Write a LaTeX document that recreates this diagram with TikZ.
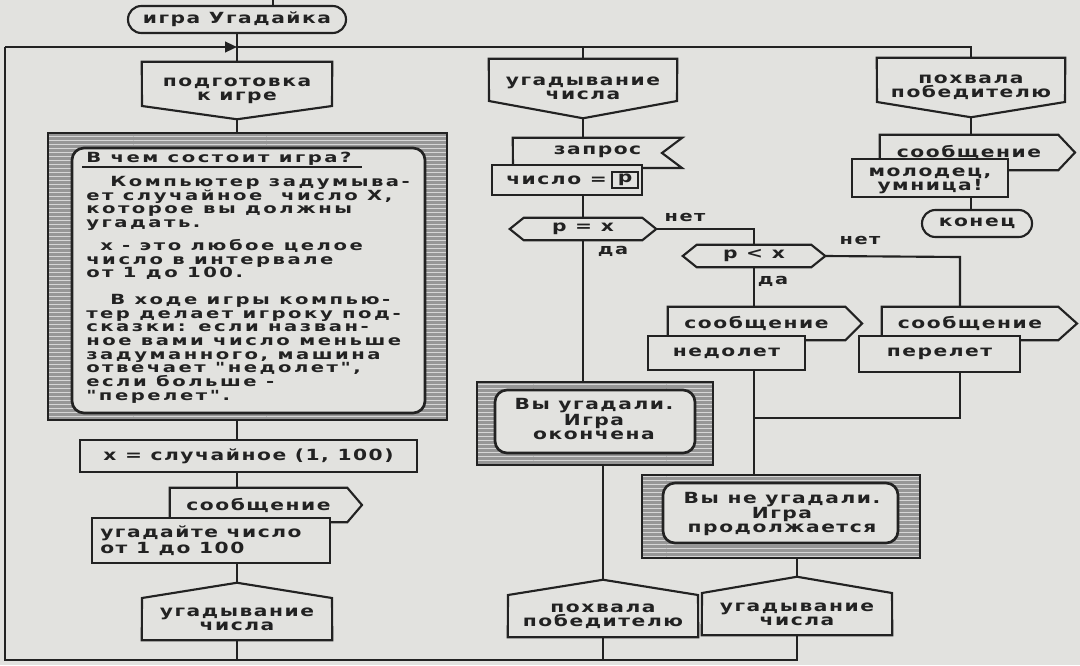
\documentclass[tikz,border=0pt]{standalone}
\usepackage{fontspec}
\newfontfamily\blkfont{DejaVu Sans}[FakeStretch=1.32,LetterSpace=10]
\newfontfamily\cmtfont{DejaVu Sans}[FakeStretch=1.4,LetterSpace=18]
\usetikzlibrary{arrows.meta,calc,patterns}
\definecolor{bg}{RGB}{226,226,223}
\definecolor{ink}{RGB}{34,34,34}
\definecolor{hatchC}{RGB}{150,150,150}
\definecolor{hatchL}{RGB}{214,214,214}
\tikzset{inbox/.style args={#1/#2/#3/#4}{minimum width={(#3-#1)*0.75pt},
  minimum height={(#4-#2)*0.75pt}, at={({(#1+#3)/2},{(#2+#4)/2})}}}
% branch header: name, x1, ytop, x2, yshoulder, ytip, text
\newcommand\hdr[7]{%
  \node[txt,inbox=#2/#3/#4/#6] (#1) {#7};
  \draw[ln] (#1.north west) -- (#1.north east) -- (#4,#5) -- (#1.south) -- (#2,#5) -- cycle;}
% branch end (address): name, x1, ytip, x2, yshoulder, ybottom, text
\newcommand\addr[7]{%
  \node[txt,inbox=#2/#5/#4/#6] (#1) {#7};
  \coordinate (#1-tip) at ($(#1.north)+(0,#3-#5)$);
  \draw[ln] (#1-tip) -- (#4,#5) -- (#1.south east) -- (#1.south west) -- (#2,#5) -- cycle;}
% output flag: name, x1, ytop, x2, ybottom, xtip, text
\newcommand\flag[7]{%
  \node[txt,inbox=#2/#3/#4/#5] (#1) {#7};
  \draw[ln] (#1.north west) -- (#1.north east) -- (#6,{(#3+#5)/2}) -- (#1.south east) -- (#1.south west) -- cycle;}
% plain box filled: name, x1, y1, x2, y2, text
\newcommand\rbox[6]{\node[txt,ln,fill=bg,inbox=#2/#3/#4/#5] (#1) {#6};}
% question hexagon: name, x1, y1, x2, y2, text
\newcommand\hexq[6]{%
  \node[txt,inbox=#2/#3/#4/#5] (#1) {#6};
  \draw[ln] (#1.west) -- ($(#1.north west)+(14,0)$) -- ($(#1.north east)+(-14,0)$) -- (#1.east)
    -- ($(#1.south east)+(-14,0)$) -- ($(#1.south west)+(14,0)$) -- cycle;}
% comment frame: name, outer x1 y1 x2 y2, inner x1 y1 x2 y2
\newcommand\cframe[9]{%
  \fill[hatchC,even odd rule] (#2,#3) rectangle (#4,#5) [rounded corners=9pt] (#6,#7) rectangle (#8,#9);
  \fill[pattern=horizontal lines,pattern color=hatchL,even odd rule] (#2,#3) rectangle (#4,#5) [rounded corners=9pt] (#6,#7) rectangle (#8,#9);
  \node[inner sep=0pt,inbox=#2/#3/#4/#5] (#1) {};
  \draw[ln] (#1.north west) rectangle (#1.south east);
  \draw[ln,line width=2pt,rounded corners=9pt] (#6,#7) rectangle (#8,#9);}
\begin{document}
\begin{tikzpicture}[x=0.75pt,y=-0.75pt,
  ln/.style={draw=ink,line width=1.6pt},
  txt/.style={font=\blkfont\bfseries\fontsize{11.5pt}{10.6pt}\selectfont,text=ink,align=center,inner sep=0pt},
  cmt/.style={font=\cmtfont\bfseries\fontsize{10.5pt}{10.3pt}\selectfont,text=ink,anchor=base west,inner sep=0pt},
  lbl/.style={font=\blkfont\bfseries\fontsize{11pt}{10.3pt}\selectfont,text=ink,inner sep=0pt}]
\fill[bg] (0,0) rectangle (1080,665);
\useasboundingbox (0,0) rectangle (1080,665);

% ---------- nodes ----------
\node[txt,ln,rounded corners=10pt,inbox=128/6/346/33] (start) {игра Угадайка};
\hdr{prep}{142}{62}{332}{106}{119}{подготовка\\к игре}
\cframe{about}{48}{133}{447}{420}{72}{148}{425}{413}
\foreach \cy/\cx/\ct [count=\i] in {
  162/86/{В чем состоит игра?},
  186/110/{Компьютер задумыва-},
  200/86/{ет случайное\ \ число Х,},
  213/86/{которое вы должны},
  227/86/{угадать.},
  250/100/{х - это любое целое},
  264/86/{число в интервале},
  277/86/{от 1 до 100.},
  304/110/{В ходе игры компью-},
  318/86/{тер делает игроку под-},
  331/86/{сказки: если назван-},
  345/86/{ное вами число меньше},
  359/86/{задуманного, машина},
  372/86/{отвечает "недолет",},
  386/86/{если больше -},
  400/86/{"перелет".}}
  {\node[cmt] (cl\i) at (\cx,\cy) {\ct};}
\draw[ln] (82,167) -- (362,167);
\rbox{rnd}{80}{440}{417}{472}{x = случайное (1, 100)}
\flag{m1}{170}{488}{347}{522}{362}{сообщение}
\rbox{g1}{92}{518}{330}{563}{}
\node[txt,align=left,anchor=west] (g1t) at (100,541) {угадайте число\\от 1 до 100};
\addr{addr1}{142}{583}{332}{598}{640}{угадывание\\числа}

\hdr{hdr2}{489}{59}{677}{101}{118}{угадывание\\числа}
\node[txt,inbox=513/138/682/165] (req) {запрос};
\draw[ln] (req.north west) -- (req.north east) -- (662,153) -- (682,168) -- (513,168) -- cycle;
\rbox{num}{492}{165}{642}{195}{}
\node[txt,anchor=east] (numt) at (607,180) {число =};
\node[txt,ln,inbox=612/172/638/188] (pbox) {p};
\hexq{q1}{510}{218}{656}{240}{p = x}
\node[lbl] (no1) at (685,217) {нет};
\node[lbl] (yes1) at (613,251) {да};
\hexq{q2}{683}{245}{825}{267}{p < x}
\node[lbl] (no2) at (860,240) {нет};
\node[lbl] (yes2) at (773,281) {да};
\cframe{win}{477}{382}{713}{465}{495}{390}{695}{453}
\node[txt] (wint) at (594,419) {Вы угадали.\\Игра\\окончена};
\addr{addr2}{508}{580}{698}{595}{637}{похвала\\победителю}

\flag{m2}{668}{307}{845}{340}{862}{сообщение}
\rbox{n1}{648}{336}{805}{370}{недолет}
\flag{m3}{882}{307}{1058}{340}{1077}{сообщение}
\rbox{n2}{859}{336}{1020}{372}{перелет}
\cframe{lose}{642}{475}{920}{558}{663}{483}{898}{543}
\node[txt] (loset) at (782,514) {Вы не угадали.\\Игра\\продолжается};
\addr{addr3}{702}{577}{892}{593}{635}{угадывание\\числа}

\hdr{hdr4}{877}{58}{1065}{102}{117}{похвала\\победителю}
\flag{m4}{880}{135}{1058}{170}{1075}{сообщение}
\rbox{mol}{852}{159}{1008}{197}{}
\node[txt] (molt) at (930,181) {молодец,\\умница!};
\node[txt,ln,rounded corners=10pt,inbox=922/210/1032/237] (endn) {конец};

% ---------- connectors ----------
\coordinate (topin) at (273,0);
\coordinate (junc1) at (237,47);
\coordinate (topL) at (5,47);
\coordinate (botL) at (5,660);
\coordinate (topR) at (hdr4.north |- junc1);
\draw[ln] (topin) -- (topin |- start.north);
\draw[ln] (start.south) -- (prep.north);
\draw[ln] (junc1) -- (topR) -- (hdr4.north);
\draw[ln] (hdr2.north |- junc1) -- (hdr2.north);
\draw[ln] (addr3.south) -- (addr3.south |- botL) -- (botL) -- (topL);
\draw[ln,-{Triangle[length=9pt,width=8pt]}] (topL) -- (junc1);
\draw[ln] (prep.south) -- (prep.south |- about.north);
\draw[ln] (prep.south |- about.south) -- (prep.south |- rnd.north);
\draw[ln] (prep.south |- rnd.south) -- (prep.south |- m1.north);
\draw[ln] (prep.south |- g1.south) -- (addr1-tip);
\draw[ln] (addr1.south) -- (addr1.south |- botL);
\draw[ln] (hdr2.south) -- (hdr2.south |- req.north);
\draw[ln] (hdr2.south |- num.south) -- (q1.north);
\draw[ln] (q1.south) -- (q1.south |- win.north);
\draw[ln] (addr2-tip |- win.south) -- (addr2-tip);
\draw[ln] (addr2.south) -- (addr2.south |- botL);
\draw[ln] (q1.east) -| (q2.north);
\draw[ln] (q2.south) -- (q2.south |- m2.north);
\coordinate (q2no) at (960,257);
\draw[ln] (q2.east) -- (q2no) -- (q2no |- m3.north);
\draw[ln] (q2.south |- n1.south) -- (q2.south |- lose.north);
\coordinate (mrg) at (q2.south |- 0,418);
\draw[ln] (q2no |- n2.south) -- (q2no |- mrg) -- (mrg);
\draw[ln] (addr3-tip |- lose.south) -- (addr3-tip);
\draw[ln] (hdr4.south) -- (hdr4.south |- m4.north);
\draw[ln] (hdr4.south |- mol.south) -- (hdr4.south |- endn.north);
\end{tikzpicture}
\end{document}
